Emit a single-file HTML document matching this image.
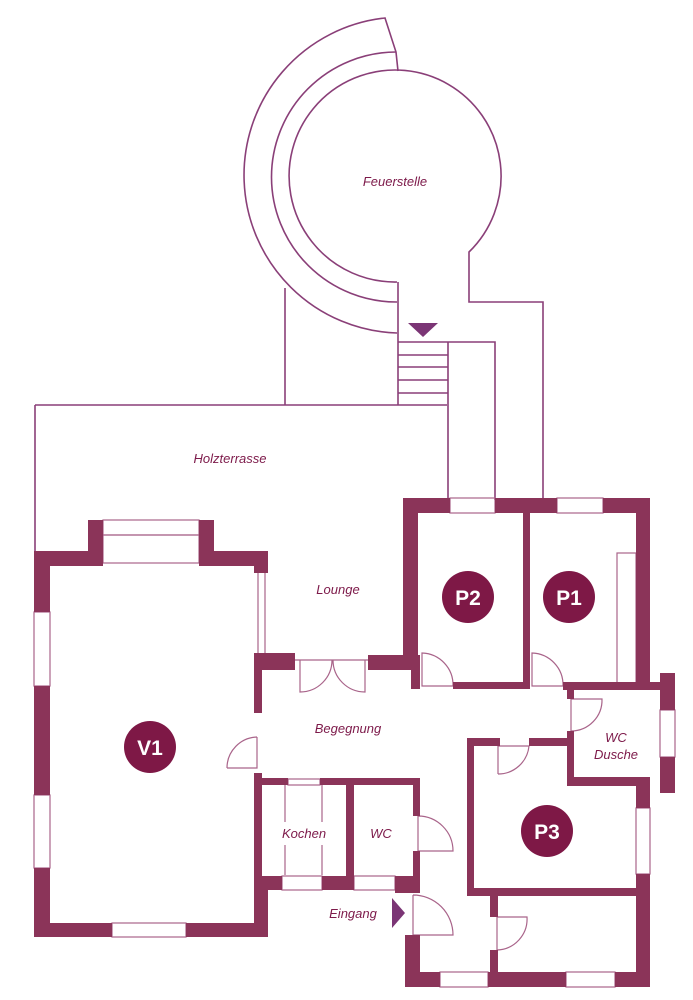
<!DOCTYPE html>
<html><head><meta charset="utf-8"><style>
html,body{margin:0;padding:0;background:#fff;}
svg{display:block;}
text{font-family:"Liberation Sans",sans-serif;font-style:italic;font-size:13px;fill:#7d1a4a;text-anchor:middle;}
.c{font-style:normal;font-weight:bold;font-size:21px;fill:#fff;}
</style></head><body>
<svg width="693" height="1000" viewBox="0 0 693 1000" xmlns="http://www.w3.org/2000/svg">
<g fill="none" stroke="#8a3f78" stroke-width="1.6">
<path d="M397,333 A158,158 0 0 1 385,18 L396,52 L398,71"/>
<path d="M397,302 A125,125 0 0 1 396,52"/>
<path d="M397,282 A106,106 0 1 1 469,252 L469,302 L543,302 L543,500"/>
<path d="M398,282 L398,405"/>
<path d="M285,288 L285,405"/>
<path d="M35,405 L447,405 M35,405 L35,552"/>
<path d="M398,342 L495,342 L495,500 M448,342 L448,500"/>
<path d="M398,355 H448 M398,367 H448 M398,380 H448 M398,393 H448"/>
</g>
<polygon points="408,323 438,323 423,337" fill="#7b3575"/>
<g fill="none" stroke="#a9648a" stroke-width="1.2">
<rect x="103" y="520" width="96" height="15"/>
<rect x="103" y="535" width="96" height="28"/>
<path d="M258,573 V653 M265,573 V653"/>
<rect x="34" y="612" width="16" height="74"/>
<rect x="34" y="795" width="16" height="73"/>
<rect x="112" y="923" width="74" height="14"/>
<path d="M227,768 H257 V737 M227,768 A31,31 0 0 1 257,737"/>
<path d="M295,660 H370"/>
<path d="M300,660 V692 A32,32 0 0 0 332,660 M365,660 V692 A32,32 0 0 1 333,660"/>
<rect x="288" y="779" width="32" height="6"/>
<path d="M285,785 V822 M285,845 V875 M322,785 V822 M322,845 V875"/>
<rect x="282" y="876" width="40" height="14"/>
<rect x="354" y="876" width="41" height="14"/>
<path d="M418,816 V851 H453 A35,35 0 0 0 418,816"/>
<path d="M413,895 V935 H453 A40,40 0 0 0 413,895"/>
<rect x="440" y="972" width="48" height="15"/>
<rect x="566" y="972" width="49" height="15"/>
<path d="M497,917 H527 A31,31 0 0 1 497,950 Z"/>
<rect x="450" y="498" width="45" height="15"/>
<rect x="557" y="498" width="46" height="15"/>
<path d="M422,686 V653 A32,32 0 0 1 453,686 Z"/>
<path d="M532,686 V653 A32,32 0 0 1 563,686 Z"/>
<rect x="617" y="553" width="19" height="130"/>
<path d="M571,731 V699 H602 A31,31 0 0 1 571,731"/>
<rect x="660" y="710" width="15" height="47"/>
<path d="M498,774 V746 H529 A31,31 0 0 1 498,774"/>
<rect x="636" y="808" width="14" height="66"/>
</g>
<g fill="#8b3459">
<rect x="34" y="551" width="16" height="61"/>
<rect x="34" y="686" width="16" height="109"/>
<rect x="34" y="868" width="16" height="69"/>
<rect x="34" y="551" width="69" height="15"/>
<rect x="88" y="520" width="15" height="46"/>
<rect x="199" y="520" width="15" height="46"/>
<rect x="199" y="551" width="69" height="15"/>
<rect x="254" y="551" width="14" height="22"/>
<rect x="34" y="923" width="78" height="14"/>
<rect x="186" y="923" width="82" height="14"/>
<rect x="254" y="653" width="41" height="17"/>
<rect x="254" y="653" width="8" height="60"/>
<rect x="254" y="773" width="8" height="112"/>
<rect x="254" y="876" width="14" height="61"/>
<rect x="254" y="778" width="34" height="7"/>
<rect x="320" y="778" width="100" height="7"/>
<rect x="346" y="778" width="8" height="107"/>
<rect x="413" y="778" width="7" height="38"/>
<rect x="413" y="851" width="7" height="39"/>
<rect x="254" y="876" width="28" height="14"/>
<rect x="322" y="876" width="32" height="14"/>
<rect x="395" y="876" width="25" height="17"/>
<rect x="368" y="655" width="50" height="15"/>
<rect x="403" y="498" width="15" height="167"/>
<rect x="411" y="655" width="9" height="34"/>
<rect x="403" y="498" width="47" height="15"/>
<rect x="495" y="498" width="62" height="15"/>
<rect x="603" y="498" width="47" height="15"/>
<rect x="523" y="513" width="7" height="176"/>
<rect x="453" y="682" width="77" height="7"/>
<rect x="563" y="682" width="112" height="8"/>
<rect x="636" y="498" width="14" height="192"/>
<rect x="660" y="673" width="15" height="37"/>
<rect x="660" y="757" width="15" height="36"/>
<rect x="567" y="682" width="7" height="17"/>
<rect x="567" y="731" width="7" height="55"/>
<rect x="567" y="777" width="83" height="9"/>
<rect x="636" y="777" width="14" height="31"/>
<rect x="636" y="874" width="14" height="113"/>
<rect x="467" y="738" width="33" height="8"/>
<rect x="529" y="738" width="45" height="8"/>
<rect x="467" y="738" width="7" height="157"/>
<rect x="467" y="888" width="183" height="8"/>
<rect x="490" y="888" width="8" height="29"/>
<rect x="490" y="950" width="8" height="37"/>
<rect x="405" y="935" width="15" height="52"/>
<rect x="405" y="972" width="35" height="15"/>
<rect x="488" y="972" width="78" height="15"/>
<rect x="615" y="972" width="35" height="15"/>
</g>
<polygon points="392,898 392,928 405,913" fill="#7b3575"/>
<g fill="#7e1846">
<circle cx="150" cy="747" r="26"/>
<circle cx="468" cy="597" r="26"/>
<circle cx="569" cy="597" r="26"/>
<circle cx="547" cy="831" r="26"/>
</g>
<text class="c" x="150" y="755">V1</text>
<text class="c" x="468" y="605">P2</text>
<text class="c" x="569" y="605">P1</text>
<text class="c" x="547" y="839">P3</text>
<text x="395" y="186">Feuerstelle</text>
<text x="230" y="463">Holzterrasse</text>
<text x="338" y="594">Lounge</text>
<text x="348" y="733">Begegnung</text>
<text x="304" y="838">Kochen</text>
<text x="381" y="838">WC</text>
<text x="353" y="918">Eingang</text>
<text x="616" y="742">WC</text>
<text x="616" y="759">Dusche</text>
</svg>
</body></html>
